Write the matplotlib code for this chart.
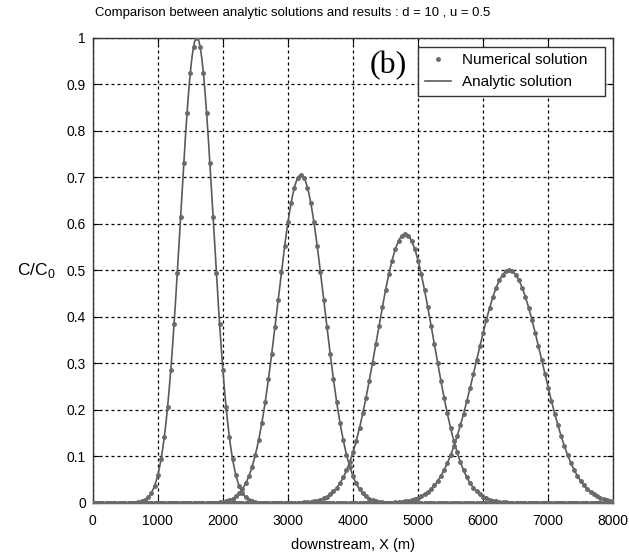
import matplotlib
matplotlib.use("Agg")
import matplotlib.pyplot as plt
import numpy as np

# values (title gives d and u)
d = 10.0
u = 0.5
peak_x = [1600, 3200, 4800, 6400]
peak_c = [1.0, 0.705, 0.578, 0.50]
dx_num = 50  # spacing of the numerical nodes
x_ticks = [0, 1000, 2000, 3000, 4000, 5000, 6000, 7000, 8000]
y_ticks = [0, 0.1, 0.2, 0.3, 0.4, 0.5, 0.6, 0.7, 0.8, 0.9, 1]
y_ticklabels = ["0", "0.1", "0.2", "0.3", "0.4", "0.5", "0.6", "0.7", "0.8", "0.9", "1"]

plt.rcParams["font.family"] = ["Liberation Sans", "DejaVu Sans"]

x_num = np.arange(0, 8000 + dx_num, dx_num)
x_line = np.linspace(0, 8000, 1601)


def analytic(x, xc, cmax):
    # advection-dispersion pulse: spread grows with travel time t = xc / u
    t = xc / u
    return cmax * np.exp(-((x - xc) ** 2) / (4 * d * t))


fig = plt.figure(figsize=(6.29, 5.59), dpi=100)
ax = fig.add_axes([0.1474, 0.1002, 0.8276, 0.8324])

for i, (xc, cm) in enumerate(zip(peak_x, peak_c)):
    ax.plot(x_line, analytic(x_line, xc, cm), color="#5a5a5a", lw=1.2,
            label="Analytic solution" if i == 0 else None, zorder=3)
    ax.plot(x_num, analytic(x_num, xc, cm), ".", color="#6a6a6a", ms=5,
            label="Numerical solution" if i == 0 else None, zorder=4)

ax.set_xlim(0, 8000)
ax.set_ylim(0, 1)
ax.set_xticks(x_ticks)
ax.set_yticks(y_ticks)
ax.set_yticklabels(y_ticklabels)
ax.tick_params(direction="in", length=4, width=0.8, top=True, right=True,
               labelsize=10, colors="black")
ax.tick_params(axis="x", pad=8)
ax.tick_params(axis="y", pad=5)
ax.grid(True, color="black", linestyle=(0, (2.4, 2.4)), linewidth=0.9)
for s in ax.spines.values():
    s.set_linewidth(1.0)
    s.set_color("#333333")

handles, labels = ax.get_legend_handles_labels()
order = [labels.index("Numerical solution"), labels.index("Analytic solution")]
leg = ax.legend([handles[k] for k in order], [labels[k] for k in order],
                loc="upper left", bbox_to_anchor=(0.625, 0.873, 0.359, 0.108),
                mode="expand", borderaxespad=0,
                fancybox=False, framealpha=1, edgecolor="#333333", fontsize=11,
                numpoints=1, handlelength=1.7, handletextpad=0.7,
                borderpad=0.45, labelspacing=0.5)
leg.get_frame().set_linewidth(1.0)

ax.text(0.567, 0.939, "(b)", transform=ax.transAxes, fontsize=23,
        family="Liberation Serif", va="center", ha="center")

fig.text(95 / 629, 1 - 13 / 559,
         "Comparison between analytic solutions and results : d = 10 , u = 0.5",
         fontsize=9.45, ha="left", va="center")
ax.set_xlabel("downstream, X (m)", fontsize=10.5, labelpad=7)
ax.set_ylabel(r"C/C$_\mathregular{0}$", fontsize=12.5, rotation=0, labelpad=22,
              va="center")

fig.savefig("out.png", dpi=100)
